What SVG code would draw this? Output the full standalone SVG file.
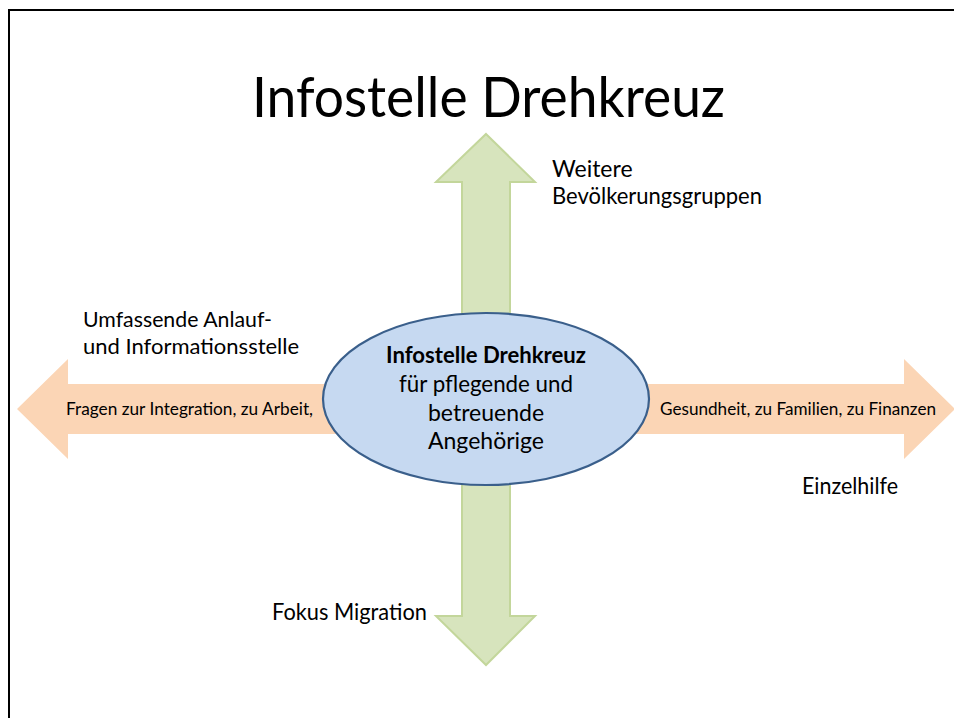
<svg xmlns="http://www.w3.org/2000/svg" width="954" height="718" viewBox="0 0 954 718">
<style>
.t{font-family:Lato,"Open Sans","Liberation Sans",sans-serif;fill:#000}
.b{font-weight:bold}
</style>
<rect x="0" y="0" width="954" height="718" fill="#fff"/>
<path d="M9,718 V10 H954" fill="none" stroke="#000" stroke-width="2"/>
<text class="t" x="488.5" y="117" font-size="56" text-anchor="middle" textLength="473" lengthAdjust="spacingAndGlyphs">Infostelle Drehkreuz</text>
<g id="connectors">
<polygon id="arrow-h" points="17,409 68,359 68,384 904,384 904,359 955,409 904,459 904,434 68,434 68,459" fill="#fbd5b5"/>
<polygon id="arrow-v" points="486,134 535,182 510,182 510,616 535,616 486,665 436,616 462,616 462,182 436,182" fill="#d7e4bd" stroke="#c3d69b" stroke-width="2"/>
</g>
<g id="center">
<ellipse cx="486" cy="399" rx="163" ry="86" fill="#c6d9f1" stroke="#3a5f8b" stroke-width="2.2"/>
<text class="t b" x="486" y="363" font-size="23" text-anchor="middle" textLength="200" lengthAdjust="spacingAndGlyphs">Infostelle Drehkreuz</text>
<text class="t" x="486" y="392" font-size="23" text-anchor="middle" textLength="174" lengthAdjust="spacingAndGlyphs">für pflegende und</text>
<text class="t" x="486" y="421" font-size="23" text-anchor="middle">betreuende</text>
<text class="t" x="486" y="449" font-size="23" text-anchor="middle">Angehörige</text>
</g>
<g id="label-top">
<text class="t" x="552" y="177" font-size="23">Weitere</text>
<text class="t" x="552" y="204" font-size="23" textLength="210" lengthAdjust="spacingAndGlyphs">Bevölkerungsgruppen</text>
</g>
<g id="label-left">
<text class="t" x="83" y="327" font-size="22" textLength="189" lengthAdjust="spacingAndGlyphs">Umfassende Anlauf-</text>
<text class="t" x="83" y="354" font-size="22">und Informationsstelle</text>
</g>
<g id="label-arrow-left">
<text class="t" x="66" y="415" font-size="17" textLength="247" lengthAdjust="spacingAndGlyphs">Fragen zur Integration, zu Arbeit,</text>
</g>
<g id="label-arrow-right">
<text class="t" x="660" y="415" font-size="17" textLength="276" lengthAdjust="spacingAndGlyphs">Gesundheit, zu Familien, zu Finanzen</text>
</g>
<g id="label-right">
<text class="t" x="802" y="494" font-size="23" textLength="96" lengthAdjust="spacingAndGlyphs">Einzelhilfe</text>
</g>
<g id="label-bottom">
<text class="t" x="272" y="620" font-size="23" textLength="155" lengthAdjust="spacingAndGlyphs">Fokus Migration</text>
</g>
</svg>
